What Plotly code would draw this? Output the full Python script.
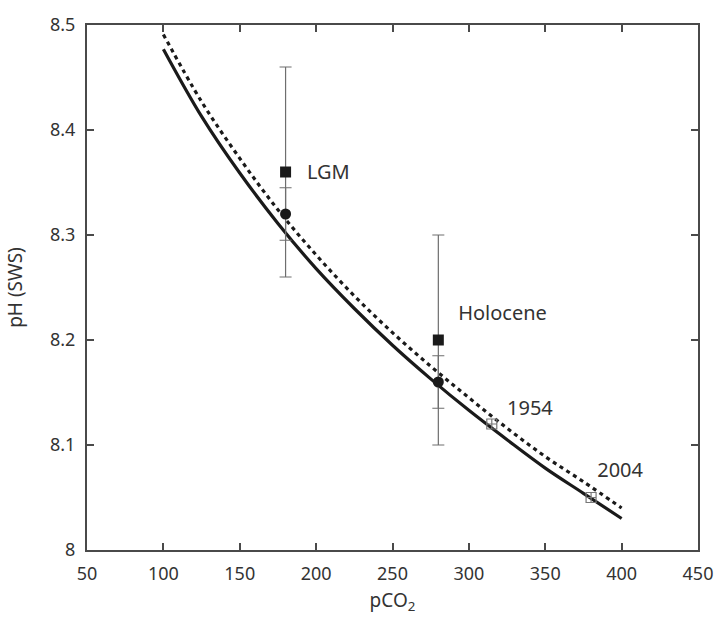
import plotly.graph_objects as go

# pH (seawater scale) versus pCO2 along two carbonate-system curves
pco2_curve = [100, 125, 150, 175, 200, 225, 250, 275, 300, 325, 350, 375, 400]
ph_solid = [8.477, 8.413, 8.359, 8.311, 8.268, 8.230, 8.195, 8.163, 8.133, 8.105, 8.078, 8.054, 8.030]
ph_dashed = [8.491, 8.427, 8.373, 8.324, 8.281, 8.242, 8.207, 8.175, 8.145, 8.116, 8.089, 8.065, 8.040]

# Reconstructed values (squares) with their uncertainty
period_names = ["LGM", "Holocene"]
period_pco2 = [180, 280]
period_ph_recon = [8.36, 8.20]
period_ph_recon_err = [0.10, 0.10]
# Values on the curve (circles) with their uncertainty
period_ph_calc = [8.32, 8.16]
period_ph_calc_err = [0.025, 0.025]

# Modern observations
year_names = ["1954", "2004"]
year_pco2 = [315, 380]
year_ph = [8.12, 8.05]

# Text label anchors
period_label_x = [194, 293]
period_label_y = [8.358, 8.224]
year_label_x = [325, 384]
year_label_y = [8.133, 8.074]

x_ticks = [50, 100, 150, 200, 250, 300, 350, 400, 450]
y_ticks = [8.0, 8.1, 8.2, 8.3, 8.4, 8.5]
y_tick_text = ["8", "8.1", "8.2", "8.3", "8.4", "8.5"]

ink = "#1a1a1a"
axis_col = "#4a4a4a"
bar_col = "#6e6e6e"
text_col = "#333333"
font_family = "Noto Sans"

fig = go.Figure()

fig.add_trace(go.Scatter(
    x=pco2_curve, y=ph_dashed, mode="lines",
    line=dict(color=ink, width=3.2, dash="4px,4px", shape="spline"),
    hoverinfo="skip"))
fig.add_trace(go.Scatter(
    x=pco2_curve, y=ph_solid, mode="lines",
    line=dict(color=ink, width=3.2, shape="spline"),
    hoverinfo="skip"))

fig.add_trace(go.Scatter(
    x=period_pco2, y=period_ph_recon, mode="markers",
    marker=dict(symbol="square", size=11, color=ink),
    error_y=dict(type="data", array=period_ph_recon_err, color=bar_col,
                 thickness=1.2, width=6)))
fig.add_trace(go.Scatter(
    x=period_pco2, y=period_ph_calc, mode="markers",
    marker=dict(symbol="circle", size=11, color=ink),
    error_y=dict(type="data", array=period_ph_calc_err, color=bar_col,
                 thickness=1.2, width=6)))

fig.add_trace(go.Scatter(
    x=year_pco2, y=year_ph, mode="markers",
    marker=dict(symbol="square-cross-open", size=10, color="#777777",
                line=dict(width=1.2, color="#777777"))))

fig.add_trace(go.Scatter(
    x=period_label_x + year_label_x, y=period_label_y + year_label_y,
    mode="text", text=period_names + year_names, textposition="middle right",
    textfont=dict(family=font_family, size=20, color=text_col),
    hoverinfo="skip"))

axis_common = dict(
    showline=True, linecolor=axis_col, linewidth=2, mirror="ticks",
    ticks="inside", ticklen=7, tickwidth=1.6, tickcolor=axis_col,
    showgrid=False, zeroline=False,
    tickfont=dict(family=font_family, size=18, color=text_col),
)

fig.update_layout(
    width=725, height=621,
    margin=dict(l=87, r=18, t=21, b=71),
    paper_bgcolor="white", plot_bgcolor="white",
    showlegend=False,
    xaxis=dict(range=[50, 450], tickvals=x_ticks, ticklabelstandoff=6,
               title=dict(text="pCO<sub>2</sub>", standoff=10,
                          font=dict(family=font_family, size=19, color=text_col)),
               **axis_common),
    yaxis=dict(range=[8.0, 8.5], tickvals=y_ticks, ticktext=y_tick_text,
               ticklabelstandoff=6,
               title=dict(text="pH (SWS)", standoff=22,
                          font=dict(family=font_family, size=19, color=text_col)),
               **axis_common),
)

fig.write_html("out.html")
